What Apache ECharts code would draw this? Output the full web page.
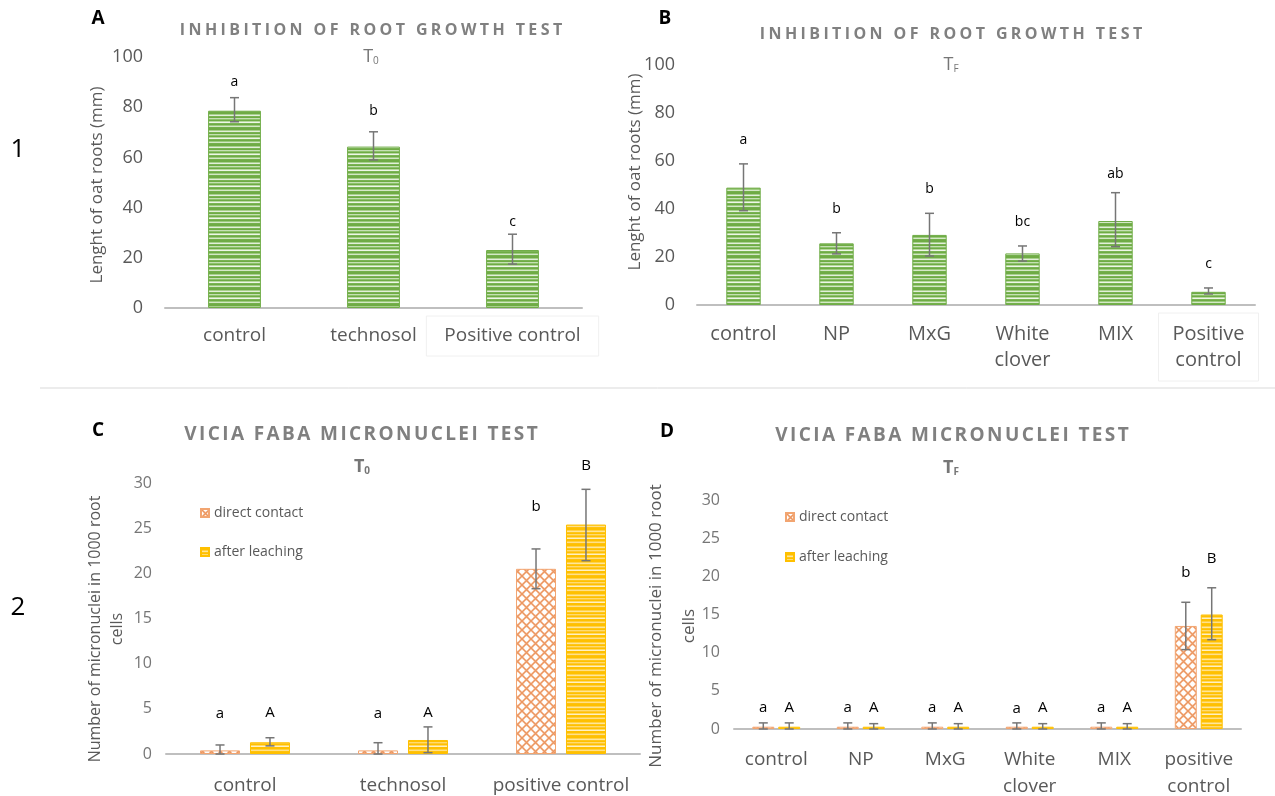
<!DOCTYPE html>
<html><head><meta charset="utf-8">
<script src="https://cdn.jsdelivr.net/npm/echarts@6/dist/echarts.min.js"></script>
<style>html,body{margin:0;padding:0;background:#fff}#c{width:1275px;height:796px}</style>
</head><body><div id="c"></div>
<script>
// ---------- DATA ----------
// Panel A (root growth, T0)
const catsA = ['control', 'technosol', 'Positive control'];
const valsA = [78.6, 64.3, 23.1];
const errLoA = [74.2, 59.0, 17.5];
const errHiA = [83.8, 70.2, 29.4];
const lettersA = ['a', 'b', 'c'];
const letterYA = [90, 78.6, 34.4];
// Panel B (root growth, TF)
const catsB = ['control', 'NP', 'MxG', 'White\nclover', 'MIX', 'Positive\ncontrol'];
const valsB = [48.9, 25.7, 29.2, 21.5, 35.0, 5.5];
const errLoB = [39.3, 21.3, 20.4, 18.3, 24.3, 4.6];
const errHiB = [58.8, 30.1, 38.2, 24.6, 46.8, 7.1];
const lettersB = ['a', 'b', 'b', 'bc', 'ab', 'c'];
const letterYB = [68.8, 39.9, 48.2, 34.7, 54.6, 17.0];
// Panel C (micronuclei, T0)
const catsC = ['control', 'technosol', 'positive control'];
const directC = [0.4, 0.4, 20.5];
const directLoC = [0, 0, 18.3];
const directHiC = [1.0, 1.25, 22.7];
const afterC = [1.3, 1.55, 25.4];
const afterLoC = [0.9, 0.15, 21.4];
const afterHiC = [1.8, 3.0, 29.3];
const lettersDirectC = ['a', 'a', 'b'];
const letterYDirectC = [4.5, 4.5, 27.4];
const lettersAfterC = ['A', 'A', 'B'];
const letterYAfterC = [4.6, 4.6, 31.9];
// Panel D (micronuclei, TF)
const catsD = ['control', 'NP', 'MxG', 'White\nclover', 'MIX', 'positive\ncontrol'];
const directD = [0.3, 0.3, 0.3, 0.3, 0.3, 13.5];
const directLoD = [0, 0, 0, 0, 0, 10.4];
const directHiD = [0.8, 0.8, 0.8, 0.8, 0.8, 16.6];
const afterD = [0.3, 0.3, 0.3, 0.3, 0.3, 15.0];
const afterLoD = [0, 0, 0, 0, 0, 11.7];
const afterHiD = [0.8, 0.7, 0.7, 0.7, 0.7, 18.5];
const lettersDirectD = ['a', 'a', 'a', 'a', 'a', 'b'];
const letterYDirectD = [2.8, 2.8, 2.8, 2.7, 2.8, 20.5];
const lettersAfterD = ['A', 'A', 'A', 'A', 'A', 'B'];
const letterYAfterD = [2.8, 2.8, 2.8, 2.8, 2.8, 22.3];
// texts
const titleRoot = 'INHIBITION OF ROOT GROWTH TEST';
const titleMicro = 'VICIA FABA MICRONUCLEI TEST';
const yNameRoot = 'Lenght of oat roots (mm)';
const yNameMicro = 'Number of micronuclei in 1000 root\ncells';
const legendNames = ['direct contact', 'after leaching'];

// ---------- STYLE HELPERS ----------
const FONT = "'Open Sans', 'Liberation Sans', sans-serif";
function stripes(rows) {
  const c = document.createElement('canvas'); c.width = 4; c.height = rows.length;
  const g = c.getContext('2d');
  rows.forEach((col, i) => { g.fillStyle = col; g.fillRect(0, i, 4, 1); });
  return c;
}
function lattice() {
  const s = 9; const c = document.createElement('canvas'); c.width = s; c.height = s;
  const g = c.getContext('2d');
  g.fillStyle = '#fdeadc'; g.fillRect(0, 0, s, s);
  g.fillStyle = '#ffffff'; g.beginPath(); g.arc(s / 2, 0, 2.2, 0, Math.PI * 2); g.arc(s / 2, s, 2.2, 0, Math.PI * 2); g.fill();
  g.beginPath(); g.arc(0, s / 2, 2.2, 0, Math.PI * 2); g.arc(s, s / 2, 2.2, 0, Math.PI * 2); g.fill();
  g.strokeStyle = '#ec9660'; g.lineWidth = 1.5;
  g.beginPath(); g.moveTo(-1, -1); g.lineTo(s + 1, s + 1); g.moveTo(s + 1, -1); g.lineTo(-1, s + 1); g.stroke();
  return c;
}
const greenPat = { image: stripes(['#6fab45','#6fab45','#a8d08d','#e2efda','#79b352','#6fab45','#c5e0b4','#8dc26b','#6fab45','#b7d99f','#eef6e8','#7bb555','#6fab45','#9ccb7e','#d4e8c6','#74b04c']), repeat: 'repeat' };
const yellowPat = { image: stripes(['#ffc000','#ffc000','#ffd24d','#ffe699','#ffc61a','#ffc000','#ffdb70','#ffc830','#ffc000','#ffd966','#fff0c2','#ffc000','#ffc000','#ffd040','#ffe08a','#ffc20d']), repeat: 'repeat' };
const orangePat = { image: lattice(), repeat: 'repeat' };

function spaced(str) {
  return str.split('').map(ch => '{l|' + ch + '}').join('');
}
function errItem(sign, barPct, gapPct) {
  return function (params, api) {
    const i = api.value(0);
    const lo = api.coord([i, api.value(1)]);
    const hi = api.coord([i, api.value(2)]);
    const band = api.size([1, 0])[0];
    const bw = band * barPct;
    const off = sign * (bw + bw * gapPct) / 2;
    const x = lo[0] + off, cap = 4.5;
    const st = { stroke: '#767676', lineWidth: 1.5 };
    return { type: 'group', children: [
      { type: 'line', shape: { x1: x, y1: hi[1], x2: x, y2: lo[1] }, style: st },
      { type: 'line', shape: { x1: x - cap, y1: hi[1], x2: x + cap, y2: hi[1] }, style: st },
      { type: 'line', shape: { x1: x - cap, y1: lo[1], x2: x + cap, y2: lo[1] }, style: st }
    ] };
  };
}
function letterItem(sign, barPct, gapPct, letters, size) {
  return function (params, api) {
    const i = api.value(0);
    const p = api.coord([i, api.value(1)]);
    const band = api.size([1, 0])[0];
    const bw = band * barPct;
    const off = sign * (bw + bw * gapPct) / 2;
    return { type: 'text', x: p[0] + off, y: p[1],
      style: { text: letters[params.dataIndex], fill: '#000', fontSize: size, fontFamily: FONT, align: 'center', verticalAlign: 'middle' } };
  };
}
function errData(lo, hi) { return lo.map((v, i) => [i, v, hi[i]]); }
function letterData(ys) { return ys.map((v, i) => [i, v]); }

function xAx(idx, cats, opts) {
  return {
    type: 'category', gridIndex: idx,
    data: cats.map(c => (c.toLowerCase().indexOf('positive') === 0 && opts.box)
      ? { value: c, textStyle: { borderColor: '#f0f0f0', borderWidth: 1 } } : c),
    axisLine: { show: true, lineStyle: { color: '#bfbfbf', width: 2 } },
    axisTick: { show: false },
    axisLabel: { interval: 0, fontSize: opts.fs, color: '#595959', fontFamily: FONT,
      margin: opts.margin, lineHeight: opts.lh, padding: opts.pad }
  };
}
function yAx(idx, max, interval, fs, margin, color) {
  return {
    type: 'value', gridIndex: idx, min: 0, max: max, interval: interval,
    axisLine: { show: false }, axisTick: { show: false }, splitLine: { show: false },
    axisLabel: { fontSize: fs, color: color, fontFamily: FONT, margin: margin }
  };
}
const titleRich = (fs, pad) => ({ l: { fontSize: fs, fontWeight: 'bold', fill: '#808080', color: '#808080', fontFamily: FONT, padding: [0, pad, 0, pad] } });
function subTitle(x, y, sub, bold) {
  return { type: 'text', x: x, y: y, style: { text: '{t|T}{s|' + sub + '}', align: 'center', verticalAlign: 'middle',
    rich: { t: { fontSize: 18, fontWeight: bold ? 'bold' : 'normal', fill: '#767676', color: '#767676', fontFamily: FONT },
            s: { fontSize: 10, fontWeight: bold ? 'bold' : 'normal', fill: '#767676', color: '#767676', fontFamily: FONT, verticalAlign: 'bottom' } } } };
}
function plainText(x, y, text, fs, opts) {
  opts = opts || {};
  return { type: 'text', x: x, y: y, rotation: opts.rot || 0,
    style: { text: text, fontSize: fs, fontWeight: opts.bold ? 'bold' : 'normal', fill: opts.color || '#000', fontFamily: FONT,
      align: 'center', verticalAlign: 'middle', lineHeight: opts.lh } };
}

// ---------- CHART ----------
const chart = echarts.init(document.getElementById('c'), null, { renderer: 'canvas' });
const AB_BAR_A = 0.38, AB_BAR_B = 0.37, C_BAR = 0.253, C_GAP = 0.25, D_BAR = 0.26, D_GAP = 0.18;
const option = {
  backgroundColor: '#ffffff',
  animation: false,
  textStyle: { fontFamily: FONT },
  grid: [
    { left: 165, top: 57, width: 417, height: 251, containLabel: false, outerBoundsMode: 'none' },
    { left: 697, top: 65, width: 558, height: 240, containLabel: false, outerBoundsMode: 'none' },
    { left: 166, top: 483, width: 474, height: 271, containLabel: false, outerBoundsMode: 'none' },
    { left: 734, top: 500, width: 507, height: 229, containLabel: false, outerBoundsMode: 'none' }
  ],
  xAxis: [
    xAx(0, catsA, { fs: 19, margin: 8, lh: 22, pad: [9, 18, 9, 18], box: true }),
    xAx(1, catsB, { fs: 20, margin: 8, lh: 26, pad: [8, 14, 8, 14], box: true }),
    xAx(2, catsC, { fs: 19, margin: 20, lh: 24, pad: 0, box: false }),
    xAx(3, catsD, { fs: 19, margin: 17, lh: 27, pad: 0, box: false })
  ],
  yAxis: [
    yAx(0, 100, 20, 18, 22, '#595959'),
    yAx(1, 100, 20, 18, 22, '#595959'),
    yAx(2, 30, 5, 16, 14, '#767676'),
    yAx(3, 30, 5, 16, 14, '#767676')
  ],
  legend: [
    { data: legendNames, orient: 'vertical', left: 195, top: 500, itemWidth: 8, itemHeight: 8, itemGap: 23, icon: 'rect',
      selectedMode: false, textStyle: { fontSize: 14, color: '#595959', lineHeight: 16, fontFamily: FONT } },
    { data: legendNames, orient: 'vertical', left: 780, top: 504, itemWidth: 8, itemHeight: 8, itemGap: 24, icon: 'rect',
      selectedMode: false, textStyle: { fontSize: 14, color: '#595959', lineHeight: 16, fontFamily: FONT } }
  ],
  series: [
    // A
    { type: 'bar', name: 'A', xAxisIndex: 0, yAxisIndex: 0, data: valsA, barWidth: '38%',
      itemStyle: { color: greenPat, borderColor: '#70ad47', borderWidth: 1 } },
    { type: 'custom', xAxisIndex: 0, yAxisIndex: 0, data: errData(errLoA, errHiA), encode: { x: 0, y: [1, 2] }, renderItem: errItem(0, AB_BAR_A, 0), z: 5 },
    { type: 'custom', xAxisIndex: 0, yAxisIndex: 0, data: letterData(letterYA), encode: { x: 0, y: 1 }, renderItem: letterItem(0, AB_BAR_A, 0, lettersA, 14), z: 5 },
    // B
    { type: 'bar', name: 'B', xAxisIndex: 1, yAxisIndex: 1, data: valsB, barWidth: '37%',
      itemStyle: { color: greenPat, borderColor: '#70ad47', borderWidth: 1 } },
    { type: 'custom', xAxisIndex: 1, yAxisIndex: 1, data: errData(errLoB, errHiB), encode: { x: 0, y: [1, 2] }, renderItem: errItem(0, AB_BAR_B, 0), z: 5 },
    { type: 'custom', xAxisIndex: 1, yAxisIndex: 1, data: letterData(letterYB), encode: { x: 0, y: 1 }, renderItem: letterItem(0, AB_BAR_B, 0, lettersB, 14), z: 5 },
    // C
    { type: 'bar', name: 'direct contact', xAxisIndex: 2, yAxisIndex: 2, data: directC, barWidth: '25.3%', barGap: '25%',
      itemStyle: { color: orangePat, borderColor: '#f2a571', borderWidth: 1 } },
    { type: 'bar', name: 'after leaching', xAxisIndex: 2, yAxisIndex: 2, data: afterC, barWidth: '25.3%', barGap: '25%',
      itemStyle: { color: yellowPat, borderColor: '#ffc000', borderWidth: 1 } },
    { type: 'custom', xAxisIndex: 2, yAxisIndex: 2, data: errData(directLoC, directHiC), encode: { x: 0, y: [1, 2] }, renderItem: errItem(-1, C_BAR, C_GAP), z: 5 },
    { type: 'custom', xAxisIndex: 2, yAxisIndex: 2, data: errData(afterLoC, afterHiC), encode: { x: 0, y: [1, 2] }, renderItem: errItem(1, C_BAR, C_GAP), z: 5 },
    { type: 'custom', xAxisIndex: 2, yAxisIndex: 2, data: letterData(letterYDirectC), encode: { x: 0, y: 1 }, renderItem: letterItem(-1, C_BAR, C_GAP, lettersDirectC, 15), z: 5 },
    { type: 'custom', xAxisIndex: 2, yAxisIndex: 2, data: letterData(letterYAfterC), encode: { x: 0, y: 1 }, renderItem: letterItem(1, C_BAR, C_GAP, lettersAfterC, 15), z: 5 },
    // D
    { type: 'bar', name: 'direct contact', xAxisIndex: 3, yAxisIndex: 3, data: directD, barWidth: '26%', barGap: '18%',
      itemStyle: { color: orangePat, borderColor: '#f2a571', borderWidth: 1 } },
    { type: 'bar', name: 'after leaching', xAxisIndex: 3, yAxisIndex: 3, data: afterD, barWidth: '26%', barGap: '18%',
      itemStyle: { color: yellowPat, borderColor: '#ffc000', borderWidth: 1 } },
    { type: 'custom', xAxisIndex: 3, yAxisIndex: 3, data: errData(directLoD, directHiD), encode: { x: 0, y: [1, 2] }, renderItem: errItem(-1, D_BAR, D_GAP), z: 5 },
    { type: 'custom', xAxisIndex: 3, yAxisIndex: 3, data: errData(afterLoD, afterHiD), encode: { x: 0, y: [1, 2] }, renderItem: errItem(1, D_BAR, D_GAP), z: 5 },
    { type: 'custom', xAxisIndex: 3, yAxisIndex: 3, data: letterData(letterYDirectD), encode: { x: 0, y: 1 }, renderItem: letterItem(-1, D_BAR, D_GAP, lettersDirectD, 15), z: 5 },
    { type: 'custom', xAxisIndex: 3, yAxisIndex: 3, data: letterData(letterYAfterD), encode: { x: 0, y: 1 }, renderItem: letterItem(1, D_BAR, D_GAP, lettersAfterD, 15), z: 5 }
  ],
  graphic: [
    { type: 'line', shape: { x1: 40, y1: 388, x2: 1275, y2: 388 }, style: { stroke: '#d9d9d9', lineWidth: 1 } },
    plainText(18, 150, '1', 26),
    plainText(18, 608, '2', 26),
    plainText(98, 19, 'A', 19, { bold: true }),
    plainText(665, 19, 'B', 19, { bold: true }),
    plainText(98, 431, 'C', 19, { bold: true }),
    plainText(667, 432, 'D', 19, { bold: true }),
    { type: 'text', x: 371, y: 30, style: { text: spaced(titleRoot), rich: titleRich(16, 1.7), align: 'center', verticalAlign: 'middle' } },
    { type: 'text', x: 951, y: 34, style: { text: spaced(titleRoot), rich: titleRich(16, 1.7), align: 'center', verticalAlign: 'middle' } },
    { type: 'text', x: 361, y: 435, style: { text: spaced(titleMicro), rich: titleRich(19, 1.2), align: 'center', verticalAlign: 'middle' } },
    { type: 'text', x: 952, y: 436, style: { text: spaced(titleMicro), rich: titleRich(19, 1.2), align: 'center', verticalAlign: 'middle' } },
    subTitle(371, 57, '0', false),
    subTitle(951, 65, 'F', false),
    subTitle(362, 467, '0', true),
    subTitle(951, 468, 'F', true),
    plainText(97, 185, yNameRoot, 17, { rot: Math.PI / 2, color: '#595959' }),
    plainText(635, 172, yNameRoot, 17, { rot: Math.PI / 2, color: '#595959' }),
    plainText(106, 629, yNameMicro, 16, { rot: Math.PI / 2, color: '#595959', lh: 22 }),
    plainText(673, 626, yNameMicro, 17, { rot: Math.PI / 2, color: '#595959', lh: 33 })
  ]
};
chart.setOption(option);
</script>
</body></html>
